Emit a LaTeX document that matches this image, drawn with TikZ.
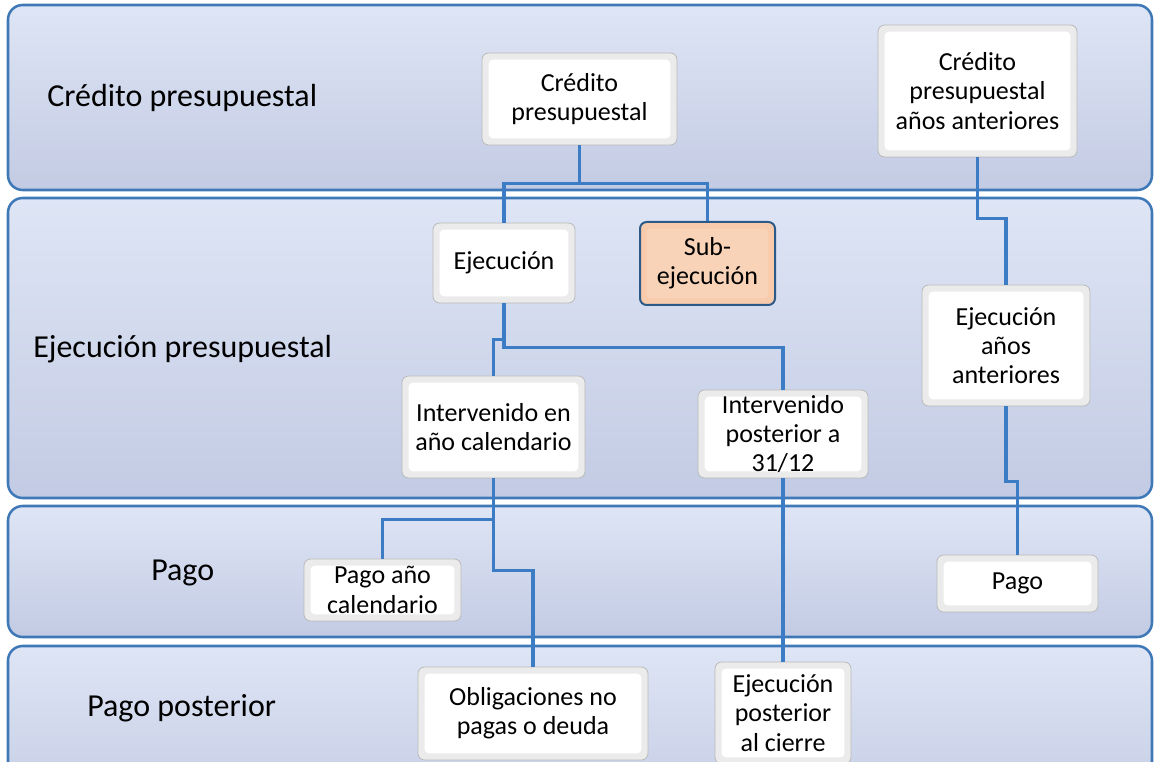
\documentclass[tikz,border=0pt]{standalone}
\usepackage{fontspec}
\setmainfont{Carlito}
\definecolor{bandtop}{HTML}{DEE5F5}
\definecolor{bandbot}{HTML}{C3CBE4}
\definecolor{bandline}{HTML}{3F78B7}
\definecolor{linkblue}{HTML}{3B7CC4}
\definecolor{peach}{HTML}{F8CBAD}
\definecolor{peachin}{HTML}{F9D3B8}
\definecolor{darkblue}{HTML}{2C5A88}
\tikzset{
  band/.style={draw=bandline, line width=1.9pt, rounded corners=11pt, top color=bandtop, bottom color=bandbot},
  lanelabel/.style={font=\fontsize{24}{28}\selectfont, anchor=base west, inner sep=0pt},
  box/.style={draw=gray!55, line width=0.6pt, rounded corners=5pt, fill=gray!16, align=center,
    font=\fontsize{19.5}{22}\selectfont, inner sep=0pt,
    path picture={\fill[white, rounded corners=3pt] ([shift={(5pt,-5pt)}]path picture bounding box.north west) rectangle ([shift={(-5pt,5pt)}]path picture bounding box.south east);}},
  peachbox/.style={draw=darkblue, line width=1.5pt, rounded corners=5pt, fill=peach, align=center,
    font=\fontsize{19.5}{22}\selectfont, inner sep=0pt,
    path picture={\fill[peachin, rounded corners=3pt] ([shift={(5pt,-5pt)}]path picture bounding box.north west) rectangle ([shift={(-5pt,5pt)}]path picture bounding box.south east);}},
  link/.style={draw=linkblue, line width=2.8pt}
}
\begin{document}
\begin{tikzpicture}[x=0.75pt,y=-0.75pt]
\clip (0,0) rectangle (1154,762);
\fill[white] (0,0) rectangle (1154,762);
% bands
\draw[band] (8,5) rectangle (1152,190);
\draw[band] (8,198) rectangle (1152,498);
\draw[band] (8,506) rectangle (1152,637);
\draw[band] (8,646) rectangle (1152,820);
% lane labels
\node[lanelabel] (l1) at (47,107) {Crédito presupuestal};
\node[lanelabel] (l2) at (33,358) {Ejecución presupuestal};
\node[lanelabel] (l3) at (151,581) {Pago};
\node[lanelabel] (l4) at (87,716) {Pago posterior};
% nodes
\node[box, minimum width=146.25pt, minimum height=69pt] (credito) at (579.5,99) {Crédito\\presupuestal};
\node[box, minimum width=149.25pt, minimum height=99pt] (creditoant) at (977.5,91) {Crédito\\presupuestal\\años anteriores};
\node[box, minimum width=106.5pt, minimum height=60pt] (ejec) at (504,263) {Ejecución};
\node[peachbox, minimum width=101.25pt, minimum height=62.25pt] (subejec) at (707.5,263.5) {Sub-\\ejecución};
\node[box, minimum width=126pt, minimum height=90.75pt] (ejecant) at (1006,345.5) {Ejecución\\años\\anteriores};
\node[box, minimum width=137.25pt, minimum height=76.5pt] (intcal) at (493.5,427) {Intervenido en\\año calendario};
\node[box, minimum width=127.5pt, minimum height=66pt] (intpost) at (783,434) {Intervenido\\posterior a\\31/12};
\node[box, minimum width=117.75pt, minimum height=46.5pt] (pagocal) at (382.5,590) {Pago año\\calendario};
\node[box, minimum width=120.75pt, minimum height=42.75pt] (pago) at (1017.5,583.5) {Pago};
\node[box, minimum width=172.5pt, minimum height=69.75pt] (oblig) at (533,713.5) {Obligaciones no\\pagas o deuda};
\node[box, minimum width=102pt, minimum height=76.5pt] (ejecpost) at (783,713) {Ejecución\\posterior\\al cierre};
% connectors
\draw[link] (credito.south) -- ++(0,38) -| (ejec.north);
\draw[link] (credito.south) -- ++(0,38) -| (subejec.north);
\draw[link] (ejec.south) -- ++(0,36) -| (intcal.north);
\draw[link] (ejec.south) -- ++(0,44) -| (intpost.north);
\draw[link] (intcal.south) -- ++(0,41) -| (pagocal.north);
\draw[link] (intcal.south) -- ++(0,92) -| (oblig.north);
\draw[link] (intpost.south) -- (ejecpost.north);
\draw[link] (creditoant.south) -- ++(0,61) -| (ejecant.north);
\draw[link] (ejecant.south) -- ++(0,75) -| (pago.north);
\end{tikzpicture}
\end{document}
